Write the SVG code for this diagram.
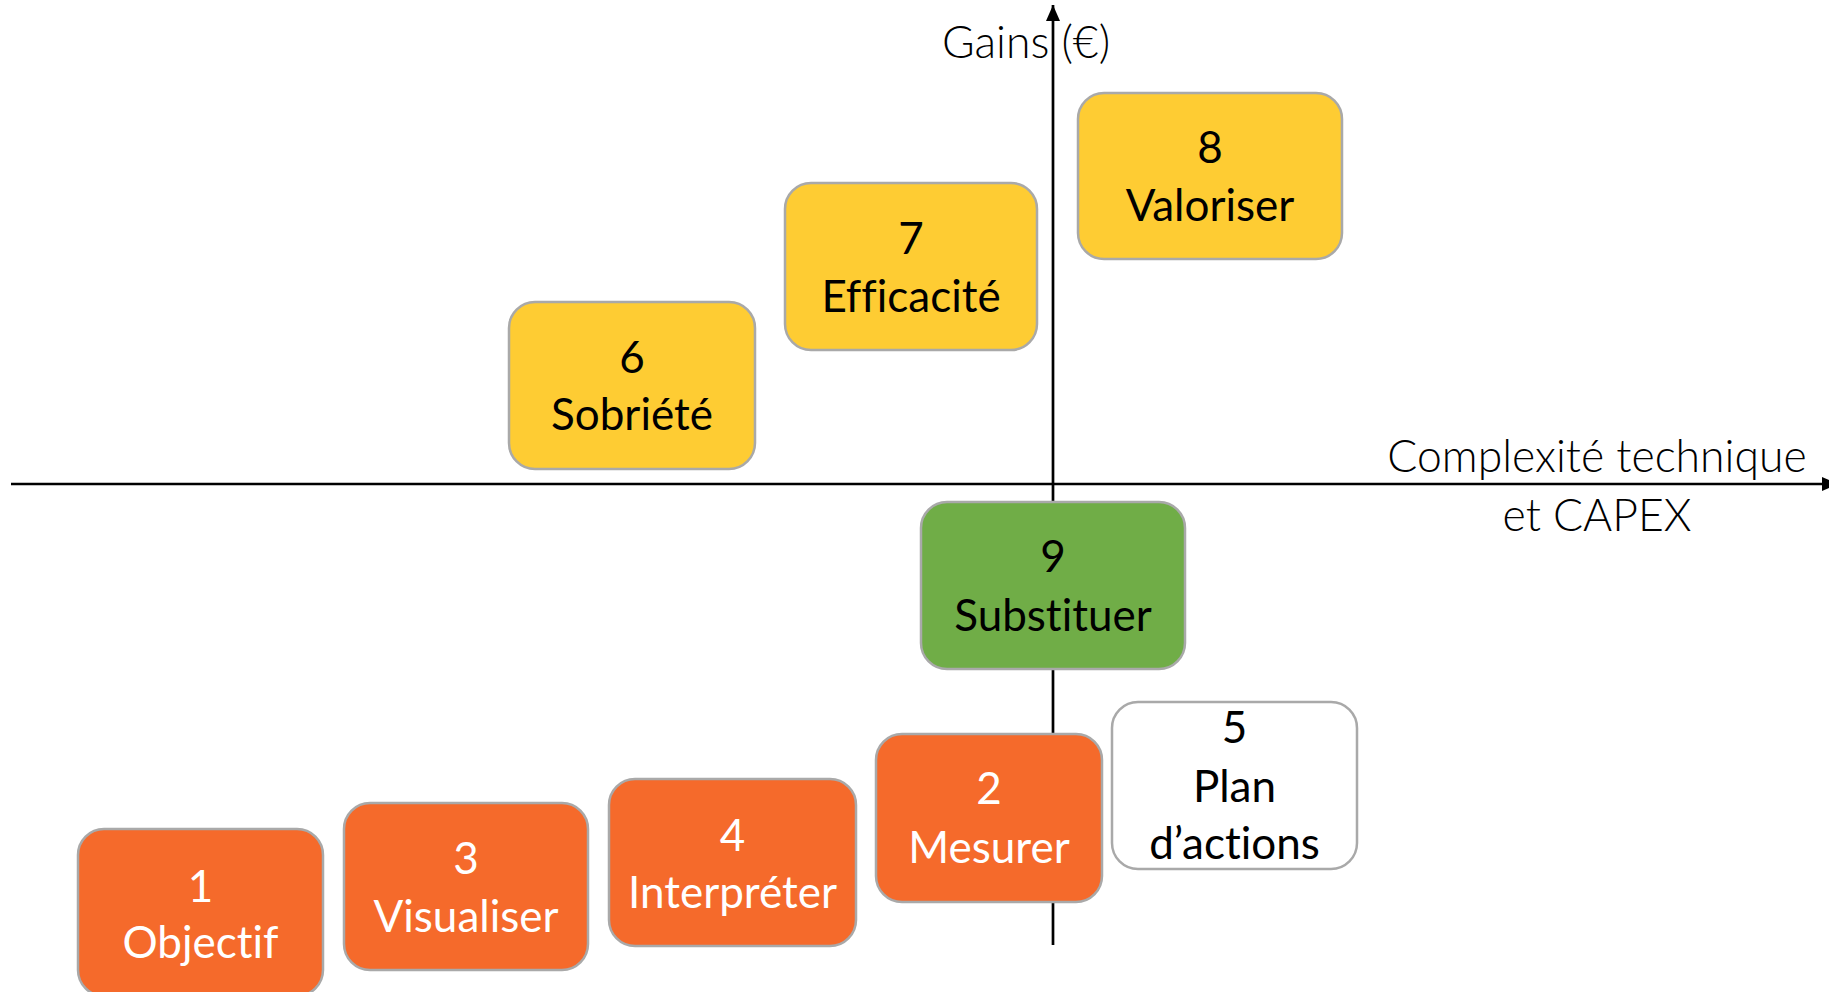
<svg xmlns="http://www.w3.org/2000/svg" width="1829" height="992" viewBox="0 0 1829 992">
  <style>
    .box { stroke: #A9A9A9; stroke-width: 2.5; }
    .orange { fill: #F56A2B; }
    .yellow { fill: #FECC33; }
    .green { fill: #70AD47; }
    .white { fill: #FFFFFF; }
    .lbl { font-family: Lato, "Liberation Sans", sans-serif; font-size: 44px; text-anchor: middle; font-variant-ligatures: none; }
    .dark { fill: #000000; }
    .light { fill: #FFFFFF; }
    .axislbl { font-family: Lato, "Liberation Sans", sans-serif; font-weight: 300; font-size: 44.5px; fill: #000000; }
    .axis { stroke: #000000; stroke-width: 2.7; fill: none; }
  </style>
  <defs>
    <marker id="arrow" markerUnits="userSpaceOnUse" markerWidth="16" markerHeight="14" refX="16" refY="7" orient="auto">
      <path d="M0,0 L16,7 L0,14 z" fill="#000000"/>
    </marker>
  </defs>
  <rect x="0" y="0" width="1829" height="992" fill="#FFFFFF"/>

  <g id="connectors">
    <line class="axis" x1="11" y1="484" x2="1838" y2="484" marker-end="url(#arrow)"/>
    <line class="axis" x1="1053" y1="945" x2="1053" y2="5" marker-end="url(#arrow)"/>
  </g>

  <g id="axis-labels">
    <text class="axislbl" x="942" y="58">Gains (€)</text>
    <text class="axislbl" x="1597" y="472" text-anchor="middle">Complexité technique</text>
    <text class="axislbl" x="1597" y="531" text-anchor="middle">et CAPEX</text>
  </g>

  <g id="node-1">
    <rect class="box orange" x="78" y="829" width="245" height="167" rx="26"/>
    <text class="lbl light" x="200.5" y="902">1</text>
    <text class="lbl light" x="200.5" y="958">Objectif</text>
  </g>
  <g id="node-3">
    <rect class="box orange" x="344" y="803" width="244" height="167" rx="26"/>
    <text class="lbl light" x="466" y="874">3</text>
    <text class="lbl light" x="466" y="932">Visualiser</text>
  </g>
  <g id="node-4">
    <rect class="box orange" x="609" y="779" width="247" height="167" rx="26"/>
    <text class="lbl light" x="732.5" y="851">4</text>
    <text class="lbl light" x="732.5" y="908">Interpréter</text>
  </g>
  <g id="node-2">
    <rect class="box orange" x="876" y="734" width="226" height="168" rx="26"/>
    <text class="lbl light" x="989" y="804">2</text>
    <text class="lbl light" x="989" y="863">Mesurer</text>
  </g>
  <g id="node-5">
    <rect class="box white" x="1112" y="702" width="245" height="167" rx="26"/>
    <text class="lbl dark" x="1234.5" y="743">5</text>
    <text class="lbl dark" x="1234.5" y="802">Plan</text>
    <text class="lbl dark" x="1234.5" y="859">d’actions</text>
  </g>
  <g id="node-9">
    <rect class="box green" x="921" y="502" width="264" height="167" rx="26"/>
    <text class="lbl dark" x="1053" y="572">9</text>
    <text class="lbl dark" x="1053" y="631">Substituer</text>
  </g>
  <g id="node-6">
    <rect class="box yellow" x="509" y="302" width="246" height="167" rx="26"/>
    <text class="lbl dark" x="632" y="373">6</text>
    <text class="lbl dark" x="632" y="430">Sobriété</text>
  </g>
  <g id="node-7">
    <rect class="box yellow" x="785" y="183" width="252" height="167" rx="26"/>
    <text class="lbl dark" x="911" y="254">7</text>
    <text class="lbl dark" x="911" y="312">Efficacité</text>
  </g>
  <g id="node-8">
    <rect class="box yellow" x="1078" y="93" width="264" height="166" rx="26"/>
    <text class="lbl dark" x="1210" y="163">8</text>
    <text class="lbl dark" x="1210" y="221">Valoriser</text>
  </g>
</svg>
